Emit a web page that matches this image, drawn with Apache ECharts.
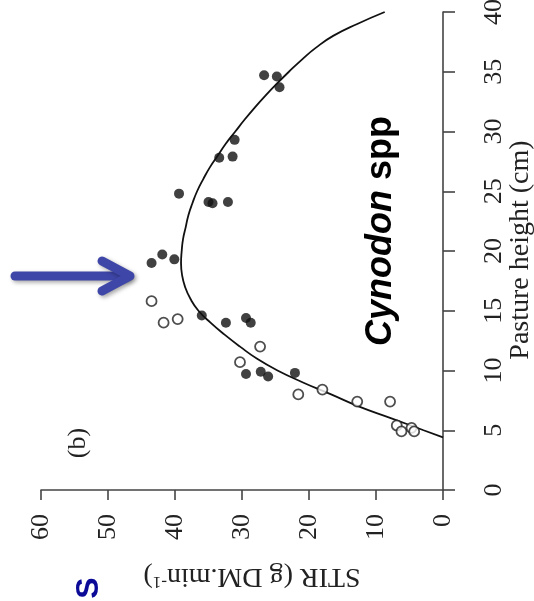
<!DOCTYPE html>
<html>
<head>
<meta charset="utf-8">
<script src="https://cdn.jsdelivr.net/npm/echarts@6/dist/echarts.min.js"></script>
<style>html,body{margin:0;padding:0;background:#fff;}#c{width:534px;height:601px;}</style>
</head>
<body>
<div id="c"></div>
<script>
// STIR (g DM/min) vs pasture height (cm)
var stirTicks = [0, 10, 20, 30, 40, 50, 60];
var heightTicks = [0, 5, 10, 15, 20, 25, 30, 35, 40];

// filled points: [STIR, height]
var filledStir =   [26.7, 24.8, 24.4, 31.1, 33.4, 31.4, 39.4, 35.0, 34.4, 32.1, 43.5, 41.9, 40.1, 36.0, 32.4, 29.4, 28.7, 29.4, 27.2, 26.1, 22.1];
var filledHeight = [34.7, 34.6, 33.7, 29.3, 27.8, 27.9, 24.8, 24.1, 24.0, 24.1, 19.0, 19.7, 19.3, 14.6, 14.0, 14.4, 14.0,  9.7,  9.9,  9.5,  9.8];

// open points: [STIR, height]
var openStir =   [43.5, 41.7, 39.6, 27.3, 30.3, 21.6, 18.0, 12.8, 7.9, 6.9, 6.2, 4.7, 4.3];
var openHeight = [15.8, 14.0, 14.3, 12.0, 10.7,  8.0,  8.4,  7.4, 7.4, 5.4, 4.9, 5.2, 4.9];

// fitted curve
var curveHeight = [4.4, 5, 6, 7, 8, 9, 10, 11, 12, 13, 14, 15, 16, 17, 18, 19, 20, 21, 22, 23, 24, 25, 26, 27, 28, 29, 30, 31, 32, 33, 34, 35, 36, 37, 38, 39, 40];
var curveStir =   [0, 2.9, 7.7, 12.6, 16.7, 20.9, 24.7, 27.8, 30.3, 32.6, 34.7, 36.5, 37.7, 38.5, 38.95, 39.1, 39.0, 38.8, 38.4, 38.0, 37.4, 36.7, 35.8, 34.8, 33.6, 32.4, 31.0, 29.6, 28.1, 26.5, 24.8, 23.0, 21.1, 19.0, 16.4, 12.8, 8.7];

function pairs(a, b) { return a.map(function (v, i) { return [v, b[i]]; }); }

var chart = echarts.init(document.getElementById('c'), null, {renderer: 'canvas'});
var axisColor = '#444';
var serif = 'Liberation Serif';
chart.setOption({
  animation: false,
  backgroundColor: '#fff',
  grid: {left: 41, right: 91, top: 12, bottom: 111, outerBoundsMode: 'none', containLabel: false},
  xAxis: {
    type: 'value', min: stirTicks[0], max: stirTicks[stirTicks.length - 1], interval: 10,
    inverse: true, position: 'bottom',
    axisLine: {onZero: false, lineStyle: {color: axisColor, width: 1.6}},
    axisTick: {length: 10, lineStyle: {color: axisColor, width: 1.6}},
    axisLabel: {rotate: 90, margin: 24, fontFamily: serif, fontSize: 26, color: '#222'},
    splitLine: {show: false}
  },
  yAxis: {
    type: 'value', min: heightTicks[0], max: heightTicks[heightTicks.length - 1], interval: 5,
    position: 'right',
    axisLine: {show: true, onZero: false, lineStyle: {color: axisColor, width: 1.6}},
    axisTick: {show: true, length: 12, lineStyle: {color: axisColor, width: 1.6}},
    axisLabel: {rotate: 90, margin: 38, fontFamily: serif, fontSize: 26, color: '#222'},
    splitLine: {show: false}
  },
  series: [
    {type: 'line', data: pairs(curveStir, curveHeight), smooth: 0.5, symbol: 'none',
     lineStyle: {color: '#111', width: 1.8}, z: 2},
    {type: 'scatter', data: pairs(openStir, openHeight), symbol: 'circle', symbolSize: 10,
     itemStyle: {color: '#fff', borderColor: '#222', borderWidth: 1.8}, z: 3},
    {type: 'scatter', data: pairs(filledStir, filledHeight), symbol: 'circle', symbolSize: 10,
     itemStyle: {color: '#111'}, z: 4}
  ],
  graphic: [
    {type: 'text', x: 252, y: 576, rotation: Math.PI,
     style: {text: '{a|STIR (g DM.min}{s|-1}{a|)}', align: 'center', verticalAlign: 'middle',
       rich: {a: {fontFamily: serif, fontSize: 28, fill: '#222'}, s: {fontFamily: serif, fontSize: 17, fill: '#222', verticalAlign: 'top'}}}},
    {type: 'text', x: 521, y: 250, rotation: Math.PI / 2,
     style: {text: 'Pasture height (cm)', fontFamily: serif, fontSize: 28, fill: '#222', align: 'center', verticalAlign: 'middle'}},
    {type: 'text', x: 78, y: 443, rotation: Math.PI / 2,
     style: {text: '(b)', fontFamily: serif, fontSize: 26, fill: '#222', align: 'center', verticalAlign: 'middle'}},
    {type: 'text', x: 381, y: 231, rotation: Math.PI / 2,
     style: {text: '{i|Cynodon}{b|\u00a0spp}', align: 'center', verticalAlign: 'middle',
       rich: {i: {fontFamily: 'Liberation Sans', fontSize: 36, fontWeight: 'bold', fontStyle: 'italic', fill: '#000'},
              b: {fontFamily: 'Liberation Sans', fontSize: 36, fontWeight: 'bold', fill: '#000'}}}},
    {type: 'text', x: 89, y: 588, rotation: Math.PI / 2,
     style: {text: 'S', fontFamily: 'Liberation Sans', fontSize: 32, fontWeight: 'bold', fill: '#0b0b98', align: 'center', verticalAlign: 'middle'}},
    {type: 'group', children: [
      {type: 'line', shape: {x1: 15, y1: 276, x2: 126, y2: 276},
       style: {stroke: '#3e46a8', lineWidth: 9, lineCap: 'round', shadowBlur: 4, shadowColor: 'rgba(0,0,0,0.35)', shadowOffsetX: 2, shadowOffsetY: 2}},
      {type: 'polyline', shape: {points: [[102, 261], [130, 276], [102, 291]]},
       style: {stroke: '#3e46a8', fill: null, lineWidth: 9, lineCap: 'round', lineJoin: 'round', shadowBlur: 4, shadowColor: 'rgba(0,0,0,0.35)', shadowOffsetX: 2, shadowOffsetY: 2}}
    ]}
  ]
});
</script>
</body>
</html>
